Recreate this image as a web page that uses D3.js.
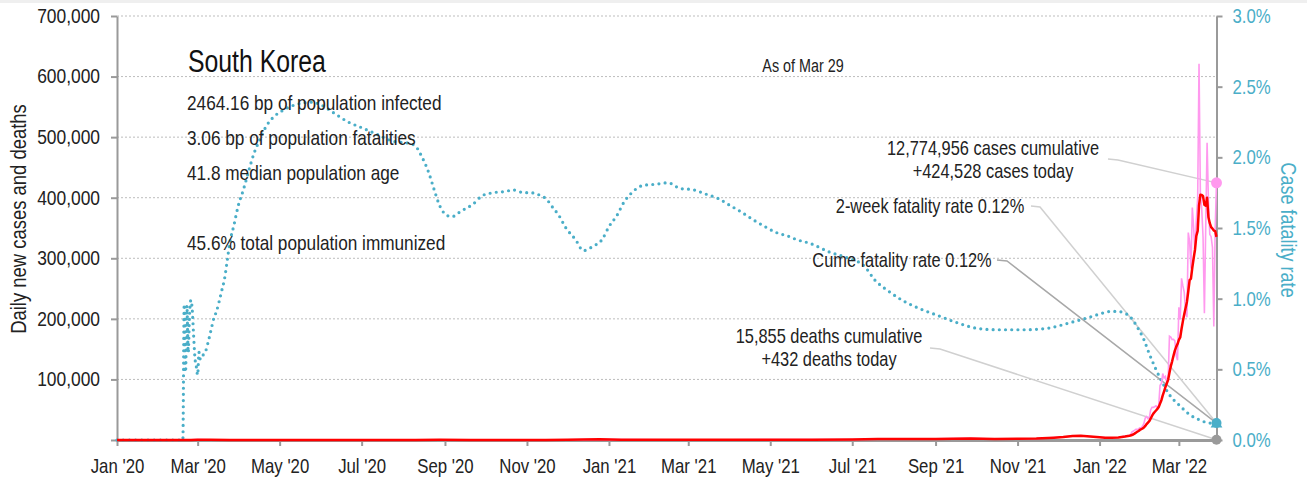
<!DOCTYPE html>
<html>
<head>
<meta charset="utf-8">
<script src="https://cdn.jsdelivr.net/npm/d3@7"></script>
<style>
  body { margin: 0; background: #fff; }
  svg text { font-family: "Liberation Sans", Arial, sans-serif; }
</style>
</head>
<body>
<svg id="chart" width="1307" height="480"></svg>
<script>
// ---- Data: South Korea, Jan 2020 - Mar 29 2022 ----
// 7-day average of new cases, sparse points before the Omicron wave
const earlyDates = ["2020-01-01","2020-02-18","2020-02-25","2020-03-01","2020-03-10","2020-03-25","2020-04-15","2020-05-10","2020-06-10","2020-08-10","2020-08-28","2020-09-20","2020-11-15","2020-12-01","2020-12-25","2021-01-10","2021-02-15","2021-04-01","2021-06-01","2021-07-01","2021-07-20","2021-08-15","2021-09-01","2021-09-27","2021-10-15","2021-11-01","2021-11-15","2021-11-28","2021-12-05","2021-12-12","2021-12-18","2021-12-25","2022-01-01","2022-01-05","2022-01-10","2022-01-15"];
const earlyAvgCases = [0,2,140,560,380,100,30,20,45,30,330,110,180,500,1050,600,450,500,600,780,1500,1800,1800,2600,1600,1900,2400,3900,5000,6700,6900,5800,4500,3900,3600,4200];

// Daily series from 2022-01-20 to 2022-03-29
const dailyStart = "2022-01-20";
const dailyCases = [
  6600,6800,7000,7600,8500,13000,14500,16000,17500,17500,18300,20300,
  20300,22900,27400,36400,38700,35300,36700,49600,54100,53900,54900,56400,54000,57200,
  90400,93100,109800,102200,104800,95400,99600,171500,170000,165900,166200,163600,139600,131700,
  219200,198800,266900,254300,243600,210700,202700,342400,327500,283000,383700,350200,309800,
  362300,400700,621300,407000,381500,334700,209200,354000,490900,395600,339500,335600,318100,
  187200,347600,424528
];
const avgCases = [
  5700,6100,6500,6900,7400,8200,9100,10500,12000,13500,15000,16700,
  17800,19000,20600,23300,26300,28800,31100,35300,39700,43500,46200,48700,51400,54300,
  60100,65700,73700,80400,87400,93300,99300,110900,121900,129900,139100,147500,153800,158400,
  165200,169300,183700,196300,207700,217900,228000,245600,264000,266300,284800,300000,314200,
  337000,345300,387300,405000,404700,402500,388100,386900,399800,367600,357900,351400,349000,
  345800,344900,335400
];

// Cumulative case fatality rate, %
const cfrDates = ["2020-01-01","2020-02-19","2020-02-20","2020-02-21","2020-02-22","2020-02-23","2020-02-24","2020-02-25","2020-02-26","2020-02-27","2020-02-28","2020-02-29","2020-03-01","2020-03-02","2020-03-03","2020-03-05","2020-03-07","2020-03-09","2020-03-11","2020-03-13","2020-03-15","2020-03-17","2020-03-19","2020-03-21","2020-03-23","2020-03-25","2020-03-28","2020-03-31","2020-04-04","2020-04-07","2020-04-12","2020-04-16","2020-04-21","2020-04-27","2020-05-03","2020-05-12","2020-05-25","2020-06-01","2020-06-11","2020-06-21","2020-07-01","2020-07-13","2020-07-26","2020-08-05","2020-08-10","2020-08-15","2020-08-20","2020-08-24","2020-08-28","2020-09-01","2020-09-06","2020-09-13","2020-09-22","2020-09-29","2020-10-07","2020-10-17","2020-10-21","2020-10-30","2020-11-03","2020-11-11","2020-11-16","2020-11-19","2020-11-25","2020-11-30","2020-12-07","2020-12-13","2020-12-20","2020-12-27","2021-01-01","2021-01-07","2021-01-12","2021-01-18","2021-01-26","2021-02-05","2021-02-14","2021-02-23","2021-03-05","2021-03-14","2021-03-23","2021-04-01","2021-04-10","2021-04-18","2021-04-27","2021-05-05","2021-05-15","2021-05-20","2021-05-31","2021-06-14","2021-06-27","2021-07-10","2021-07-18","2021-07-27","2021-08-07","2021-08-20","2021-09-03","2021-09-17","2021-10-02","2021-10-17","2021-11-06","2021-11-23","2021-12-10","2021-12-25","2022-01-04","2022-01-09","2022-01-14","2022-01-19","2022-01-24","2022-01-29","2022-02-03","2022-02-07","2022-02-11","2022-02-16","2022-02-22","2022-03-02","2022-03-09","2022-03-17","2022-03-24","2022-03-29"];
const cfrPct = [0,0,0.96,0.48,0.95,0.62,0.90,0.99,0.92,0.74,0.58,0.52,0.46,0.62,0.57,0.60,0.63,0.70,0.78,0.86,0.91,0.98,1.06,1.14,1.27,1.40,1.52,1.65,1.77,1.87,2.03,2.12,2.22,2.29,2.33,2.37,2.39,2.37,2.31,2.25,2.21,2.16,2.11,2.10,2.08,2.00,1.89,1.77,1.66,1.60,1.58,1.62,1.67,1.73,1.75,1.76,1.77,1.75,1.75,1.73,1.70,1.66,1.585,1.50,1.42,1.34,1.37,1.42,1.51,1.59,1.68,1.75,1.80,1.81,1.82,1.78,1.77,1.74,1.71,1.66,1.61,1.56,1.51,1.47,1.44,1.42,1.39,1.33,1.29,1.23,1.13,1.06,0.99,0.93,0.88,0.83,0.79,0.78,0.78,0.79,0.83,0.87,0.90,0.91,0.91,0.90,0.87,0.80,0.71,0.61,0.52,0.42,0.32,0.24,0.18,0.14,0.12,0.12];

// Headline figures
const casesCumulative = 12774956, casesToday = 424528;
const deathsCumulative = 15855, deathsToday = 432;
const cumeFatality = 0.12, twoWeekFatality = 0.12;
const statLines = ["2464.16 bp of population infected","3.06 bp of population fatalities","41.8 median population age","","45.6% total population immunized"];

const leftTicks = [0,100000,200000,300000,400000,500000,600000,700000];
const rightTicks = [0,0.5,1,1.5,2,2.5,3];

// ---- Setup ----
const parse = d3.timeParse("%Y-%m-%d");
const svg = d3.select("#chart");
const C = { pink:"#ff99ee", red:"#ff0000", teal:"#4aaec8", axis:"#9a9a9a", grid:"#bdbdbd", text:"#222" };

// condensed lettering: squeeze text horizontally around its anchor point
function narrow(sel, k = 0.82) {
  sel.each(function () {
    const t = d3.select(this);
    const tx = +t.attr("x") || 0, ty = +t.attr("y") || 0;
    const base = t.attr("transform") || "";
    t.attr("x", 0).attr("y", 0)
      .attr("transform", `${base} translate(${tx},${ty}) scale(${k},1)`);
  });
}

const x = d3.scaleTime().domain([parse("2020-01-01"), parse("2022-03-29")]).range([117, 1216.5]);
const yL = d3.scaleLinear().domain([0, 700000]).range([440, 16]);
const yR = d3.scaleLinear().domain([0, 3]).range([440, 16]);

const d0 = parse(dailyStart);
const daily = dailyCases.map((v, i) => ({ date: d3.timeDay.offset(d0, i), v }));
const avg = avgCases.map((v, i) => ({ date: d3.timeDay.offset(d0, i), v }));
const early = earlyDates.map((d, i) => ({ date: parse(d), v: earlyAvgCases[i] }));
const cfr = cfrDates.map((d, i) => ({ date: parse(d), v: cfrPct[i] }));
const lastDate = x.domain()[1];

svg.append("rect").attr("width", 1307).attr("height", 3).attr("fill", "#efefef");

// grid
svg.append("g").selectAll("line").data(leftTicks.filter(d => d > 0)).join("line")
  .attr("x1", 117).attr("x2", 1216).attr("y1", d => yL(d)).attr("y2", d => yL(d))
  .attr("stroke", C.grid).attr("stroke-width", 1).attr("stroke-dasharray", "2,2");

// axes
const styleAxis = (g, color, k) => {
  g.select(".domain").attr("stroke", C.axis).attr("stroke-width", 2);
  g.selectAll(".tick line").attr("stroke", C.axis).attr("stroke-width", 2);
  g.selectAll(".tick text").attr("fill", color).attr("font-size", 20)
    .style("font-family", '"Liberation Sans",Arial,sans-serif').call(narrow, k);
};
svg.append("g").attr("transform", "translate(117,0)")
  .call(d3.axisLeft(yL).tickValues(leftTicks).tickSize(6).tickSizeOuter(0).tickPadding(11)
    .tickFormat(d => d === 0 ? "" : d3.format(",")(d)))
  .call(g => styleAxis(g, C.text, 0.87));
svg.append("g").attr("transform", "translate(1216.5,0)")
  .call(d3.axisRight(yR).tickValues(rightTicks).tickSize(6).tickSizeOuter(0).tickPadding(10)
    .tickFormat(d => d.toFixed(1) + "%"))
  .call(g => styleAxis(g, C.teal, 0.84));
svg.append("g").attr("transform", "translate(0,440)")
  .call(d3.axisBottom(x).ticks(d3.timeMonth.every(2)).tickSize(6).tickSizeOuter(0).tickPadding(13)
    .tickFormat(d3.timeFormat("%b '%y")))
  .call(g => { styleAxis(g, C.text, 0.84); g.select(".domain").attr("stroke-width", 3); });

// axis titles
svg.append("text").attr("transform", "translate(26,219) rotate(-90)").attr("text-anchor", "middle")
  .attr("font-size", 22.5).attr("fill", C.text).text("Daily new cases and deaths").call(narrow);
svg.append("text").attr("transform", "translate(1281,230) rotate(90)").attr("text-anchor", "middle")
  .attr("font-size", 22).attr("fill", C.teal).text("Case fatality rate").call(narrow);

// leader lines
const leaders = [
  { pts: [[1108,159],[1118,160],[x(lastDate), yL(casesToday)]], c: "#d0d0d0" },
  { pts: [[1031,206],[1040,207],[x(lastDate), yR(twoWeekFatality)]], c: "#d0d0d0" },
  { pts: [[997,260],[1007,261],[x(lastDate), yR(cumeFatality)]], c: "#a8a8a8" },
  { pts: [[930,348],[940,349],[x(lastDate), yL(deathsToday)]], c: "#d0d0d0" }
];
svg.append("g").selectAll("path").data(leaders).join("path")
  .attr("d", d => d3.line()(d.pts)).attr("fill", "none").attr("stroke", d => d.c).attr("stroke-width", 1.5);

// case fatality rate (dotted)
svg.append("path").datum(cfr)
  .attr("d", d3.line().x(d => x(d.date)).y(d => yR(d.v)).curve(d3.curveMonotoneX))
  .attr("fill", "none").attr("stroke", C.teal).attr("stroke-width", 3.2)
  .attr("stroke-linecap", "round").attr("stroke-dasharray", "0,6.2");

// daily cases (thin pink) and 7-day average (red)
const caseLine = d3.line().x(d => x(d.date)).y(d => yL(d.v));
svg.append("path").datum(early.concat(daily)).attr("d", caseLine)
  .attr("fill", "none").attr("stroke", C.pink).attr("stroke-width", 1.6);
svg.append("path").datum(early.concat(avg)).attr("d", caseLine)
  .attr("fill", "none").attr("stroke", C.red).attr("stroke-width", 2.5).attr("stroke-linejoin", "round");

// end markers
svg.append("circle").attr("cx", x(lastDate)).attr("cy", yL(deathsToday)).attr("r", 5).attr("fill", "#9a9a9a");
svg.append("path").attr("d", d3.symbol(d3.symbolTriangle, 60)())
  .attr("transform", `translate(${x(lastDate)},${yR(twoWeekFatality) + 1})`).attr("fill", C.teal);
svg.append("circle").attr("cx", x(lastDate)).attr("cy", yR(cumeFatality)).attr("r", 5).attr("fill", C.teal);
svg.append("circle").attr("cx", x(lastDate)).attr("cy", yL(casesToday)).attr("r", 5.5).attr("fill", C.pink);

// headline text
svg.append("text").attr("x", 188).attr("y", 72).attr("font-size", 31).attr("fill", "#111")
  .text("South Korea").call(narrow, 0.8);
svg.append("g").selectAll("text").data(statLines).join("text")
  .attr("x", 187).attr("y", (d, i) => 110 + i * 35).attr("font-size", 21).attr("fill", C.text)
  .text(d => d).call(narrow);
svg.append("text").attr("x", 803).attr("y", 72).attr("text-anchor", "middle").attr("font-size", 17.5)
  .attr("fill", C.text).text("As of Mar 29").call(narrow);

// annotations
const fmt = d3.format(",");
const notes = [
  { x: 993, y: 155, t: `${fmt(casesCumulative)} cases cumulative` },
  { x: 993, y: 178, t: `+${fmt(casesToday)} cases today` },
  { x: 930, y: 213, t: `2-week fatality rate ${twoWeekFatality.toFixed(2)}%` },
  { x: 902, y: 267, t: `Cume fatality rate ${cumeFatality.toFixed(2)}%` },
  { x: 829, y: 343, t: `${fmt(deathsCumulative)} deaths cumulative` },
  { x: 829, y: 366, t: `+${fmt(deathsToday)} deaths today` }
];
svg.append("g").selectAll("text").data(notes).join("text")
  .attr("x", d => d.x).attr("y", d => d.y).attr("text-anchor", "middle")
  .attr("font-size", 20).attr("fill", C.text).text(d => d.t).call(narrow);
</script>
</body>
</html>
